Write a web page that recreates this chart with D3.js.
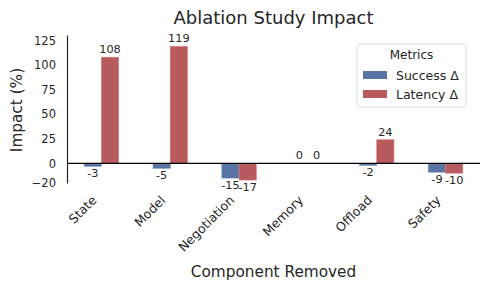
<!DOCTYPE html>
<html>
<head>
<meta charset="utf-8">
<script src="https://cdn.jsdelivr.net/npm/d3@7"></script>
<style>
  body { margin: 0; background: #fff; }
  text { font-family: "DejaVu Sans", sans-serif; fill: #262626; }
</style>
</head>
<body>
<script>
// data
const components = ["State", "Model", "Negotiation", "Memory", "Offload", "Safety"];
const successDelta = [-3, -5, -15, 0, -2, -9];
const latencyDelta = [108, 119, -17, 0, 24, -10];
const yTicks = [-20, 0, 25, 50, 75, 100, 125];
const seriesNames = ["Success Δ", "Latency Δ"];
const colors = ["#5874a4", "#b75b5f"];

const width = 490, height = 290;
const margin = {top: 35, right: 10, bottom: 107, left: 67};

const svg = d3.select("body").append("svg")
    .attr("width", width)
    .attr("height", height);

const x = d3.scaleBand()
    .domain(components)
    .range([margin.left, width - margin.right]);

const y = d3.scaleLinear()
    .domain([-20, 130.6])
    .range([height - margin.bottom, margin.top]);

const sub = d3.scaleBand()
    .domain([0, 1])
    .range([0, x.bandwidth() * 0.5]);

// title + axis labels
svg.append("text")
    .attr("x", (margin.left + width - margin.right) / 2)
    .attr("y", 24)
    .attr("text-anchor", "middle")
    .attr("font-size", 18)
    .text("Ablation Study Impact");

svg.append("text")
    .attr("transform", `translate(22,${(margin.top + height - margin.bottom) / 2 + 1}) rotate(-90)`)
    .attr("text-anchor", "middle")
    .attr("font-size", 15.3)
    .text("Impact (%)");

svg.append("text")
    .attr("x", (margin.left + width - margin.right) / 2)
    .attr("y", 277)
    .attr("text-anchor", "middle")
    .attr("font-size", 15.3)
    .text("Component Removed");

// y axis
const yAxis = svg.append("g")
    .attr("transform", `translate(${margin.left},0)`)
    .call(d3.axisLeft(y).tickValues(yTicks).tickSize(0).tickPadding(11).tickFormat(d => d < 0 ? "\u2212" + Math.abs(d) : d));
yAxis.select(".domain").attr("stroke", "#262626").attr("stroke-width", 1.2);
yAxis.selectAll("text").attr("font-size", 11.5).attr("font-family", "DejaVu Sans, sans-serif").attr("fill", "#262626");

// x tick labels
const xAxis = svg.append("g")
    .attr("transform", `translate(0,${height - margin.bottom})`)
    .call(d3.axisBottom(x).tickSize(0).tickPadding(0));
xAxis.select(".domain").remove();
xAxis.selectAll("text")
    .attr("font-size", 12.5)
    .attr("font-family", "DejaVu Sans, sans-serif")
    .attr("fill", "#262626")
    .attr("text-anchor", "end")
    .attr("dy", null)
    .attr("transform", "translate(-4,18) rotate(-45)");

// bars
const series = [successDelta, latencyDelta];
series.forEach((vals, s) => {
  const g = svg.append("g");
  g.selectAll("rect")
    .data(components)
    .join("rect")
      .attr("x", d => x(d) + x.bandwidth() * 0.25 + sub(s))
      .attr("y", (d, i) => y(Math.max(0, vals[i])))
      .attr("width", sub.bandwidth())
      .attr("height", (d, i) => Math.abs(y(vals[i]) - y(0)))
      .attr("fill", colors[s])
      .attr("stroke", d3.color(colors[s]).brighter(0.6))
      .attr("stroke-width", 0.6);
  g.selectAll("text")
    .data(components)
    .join("text")
      .attr("x", d => x(d) + x.bandwidth() * 0.25 + sub(s) + sub.bandwidth() / 2)
      .attr("y", (d, i) => vals[i] >= 0 ? y(vals[i]) - 4 : y(vals[i]) + 11)
      .attr("text-anchor", "middle")
      .attr("font-size", 11.3)
      .text((d, i) => vals[i]);
});

// zero line
svg.append("line")
    .attr("x1", margin.left)
    .attr("x2", width - margin.right)
    .attr("y1", y(0))
    .attr("y2", y(0))
    .attr("stroke", "#000")
    .attr("stroke-width", 1.2);

// legend
const lg = svg.append("g").attr("transform", "translate(357,44)");
lg.append("rect")
    .attr("width", 109)
    .attr("height", 63)
    .attr("rx", 3)
    .attr("fill", "#fff")
    .attr("stroke", "#dcdcdc");
lg.append("text")
    .attr("x", 54.5)
    .attr("y", 15)
    .attr("text-anchor", "middle")
    .attr("font-size", 12)
    .text("Metrics");
seriesNames.forEach((name, i) => {
  lg.append("rect")
    .attr("x", 6)
    .attr("y", 27 + i * 19)
    .attr("width", 24)
    .attr("height", 8)
    .attr("fill", colors[i]);
  lg.append("text")
    .attr("x", 39)
    .attr("y", 35.5 + i * 19)
    .attr("font-size", 12.5)
    .text(name);
});
</script>
</body>
</html>
